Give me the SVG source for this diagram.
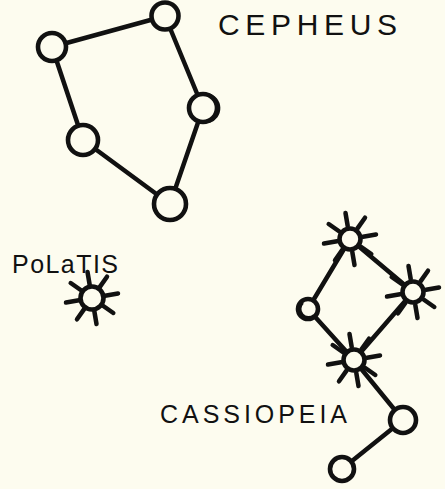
<svg xmlns="http://www.w3.org/2000/svg" width="445" height="489" viewBox="0 0 445 489">
  <style>
    .ink { stroke: #111; stroke-width: 4.5; stroke-linecap: round; fill: none; }
    .star { stroke: #111; stroke-width: 4.6; fill: #fdfcef; }
    .thin { stroke: #111; stroke-width: 2.2; fill: none; }
    .label { font-family: "Liberation Sans", "DejaVu Sans", sans-serif; fill: #111; }
  </style>
  <defs>
    <!-- eight short rays around a bright star -->
    <g id="rays" class="ink">
      <line x1="-2.3" y1="-13" x2="-4.5" y2="-26"/>
      <line x1="7.5" y1="-10.6" x2="15" y2="-21.3"/>
      <line x1="13" y1="-2.3" x2="26" y2="-4.5"/>
      <line x1="10.6" y1="7.5" x2="21.3" y2="15"/>
      <line x1="2.3" y1="13" x2="4.5" y2="26"/>
      <line x1="-7.5" y1="10.6" x2="-15" y2="21.3"/>
      <line x1="-13" y1="2.3" x2="-26" y2="4.5"/>
      <line x1="-10.6" y1="-7.5" x2="-21.3" y2="-15"/>
    </g>
  </defs>

  <rect width="445" height="489" fill="#fdfcef"/>

  <!-- connectors -->
  <g id="connectors" class="ink" stroke-width="3.4">
    <!-- Cepheus -->
    <line x1="52" y1="47" x2="165" y2="16"/>
    <line x1="165" y1="16" x2="203" y2="108"/>
    <line x1="203" y1="108" x2="170" y2="204"/>
    <line x1="170" y1="204" x2="83" y2="140"/>
    <line x1="83" y1="140" x2="52" y2="47"/>
    <!-- Cassiopeia -->
    <line x1="350" y1="239" x2="413" y2="292"/>
    <line x1="350" y1="239" x2="308" y2="309"/>
    <line x1="308" y1="309" x2="354" y2="360"/>
    <line x1="413" y1="292" x2="354" y2="360"/>
    <line x1="354" y1="360" x2="403" y2="420"/>
    <line x1="403" y1="420" x2="342" y2="469"/>
  </g>

  <!-- Cepheus stars -->
  <g id="cep-1"><circle class="star" cx="52" cy="47" r="14"/></g>
  <g id="cep-2"><circle class="star" cx="165" cy="16" r="13.5"/></g>
  <g id="cep-3">
    <circle class="star" cx="203" cy="108" r="14"/>
    <path class="thin" d="M208 94 A14.5 14.5 0 0 1 209 122"/>
  </g>
  <g id="cep-4"><circle class="star" cx="83" cy="140" r="15"/></g>
  <g id="cep-5"><circle class="star" cx="170" cy="204" r="16"/></g>

  <!-- Polaris -->
  <g id="polaris">
    <use href="#rays" x="92" y="298"/>
    <circle class="star" cx="92" cy="298" r="11.5"/>
  </g>

  <!-- Cassiopeia stars -->
  <g id="cas-1">
    <use href="#rays" x="350" y="239"/>
    <circle class="star" cx="350" cy="239" r="10.5"/>
  </g>
  <g id="cas-2">
    <use href="#rays" x="413" y="292"/>
    <circle class="star" cx="413" cy="292" r="10.5"/>
  </g>
  <g id="cas-3">
    <circle class="star" cx="308" cy="309" r="10"/>
    <path class="thin" d="M303 303 A7 7 0 0 0 314 315"/>
  </g>
  <g id="cas-4">
    <use href="#rays" x="354" y="360"/>
    <circle class="star" cx="354" cy="360" r="10.5"/>
  </g>
  <g id="cas-5"><circle class="star" cx="403" cy="420" r="13"/></g>
  <g id="cas-6"><circle class="star" cx="342" cy="469" r="12"/></g>

  <!-- labels -->
  <g id="labels" class="label">
    <text x="218" y="35" font-size="30" textLength="179" lengthAdjust="spacing">CEPHEUS</text>
    <text x="12" y="273" font-size="25" textLength="106" lengthAdjust="spacing">PoLaTIS</text>
    <text x="160" y="423" font-size="25" textLength="187" lengthAdjust="spacing">CASSIOPEIA</text>
  </g>
</svg>
